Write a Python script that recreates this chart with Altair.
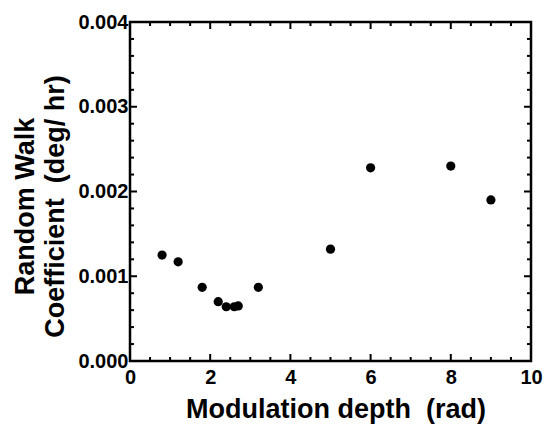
import altair as alt
import pandas as pd

# data
depth = [0.8, 1.2, 1.8, 2.2, 2.4, 2.6, 2.7, 3.2, 5.0, 6.0, 8.0, 9.0]
coef = [0.00125, 0.00117, 0.00087, 0.00070, 0.00064, 0.00064, 0.00065,
        0.00087, 0.00132, 0.00228, 0.00230, 0.00190]

x_major = [2, 4, 6, 8]
x_minor = [0.5, 1, 1.5, 2.5, 3, 3.5, 4.5, 5, 5.5, 6.5, 7, 7.5, 8.5, 9, 9.5]
y_major = [0.001, 0.002, 0.003]
y_minor = [0.0002, 0.0004, 0.0006, 0.0008, 0.0012, 0.0014, 0.0016, 0.0018,
           0.0022, 0.0024, 0.0026, 0.0028, 0.0032, 0.0034, 0.0036, 0.0038]

x_title = "Modulation depth\u00a0\u00a0(rad)"
y_title = ["Random Walk", "Coefficient\u00a0\u00a0(deg/ hr)"]

W, H = 401, 339
FONT = "Liberation Sans"

xs = alt.Scale(domain=[0, 10], nice=False, zero=False)
ys = alt.Scale(domain=[0, 0.004], nice=False, zero=False)

df = pd.DataFrame({"depth": depth, "coef": coef})

points = alt.Chart(df).mark_circle(size=85, color="black", opacity=1).encode(
    x=alt.X("depth:Q", scale=xs,
            axis=alt.Axis(values=[0, 2, 4, 6, 8, 10], format="d",
                          title=x_title, labelFlush=False,
                          ticks=False, domain=False, grid=False,
                          labelPadding=6, labelFontSize=20,
                          titleFontSize=27, titleX=W / 2 + 5, titleY=56,
                          titleBaseline="alphabetic")),
    y=alt.Y("coef:Q", scale=ys,
            axis=alt.Axis(values=[0, 0.001, 0.002, 0.003, 0.004], format=".3f",
                          title=y_title, labelFlush=False,
                          ticks=False, domain=False, grid=False,
                          labelPadding=2, labelFontSize=20,
                          titleFontSize=27, titleLineHeight=30,
                          titleAngle=-90, titleAlign="center",
                          titleBaseline="alphabetic",
                          titleX=-97, titleY=184)),
)


def xticks(vals, length, top):
    d = pd.DataFrame({"v": vals})
    if top:
        yy, yy2 = 0, length
    else:
        yy, yy2 = H, H - length
    return alt.Chart(d).mark_rule(color="black", strokeWidth=2).encode(
        x=alt.X("v:Q", scale=xs),
        y=alt.value(yy), y2=alt.value(yy2))


def yticks(vals, length, right):
    d = pd.DataFrame({"v": vals})
    if right:
        xx, xx2 = W, W - length
    else:
        xx, xx2 = 0, length
    return alt.Chart(d).mark_rule(color="black", strokeWidth=2).encode(
        y=alt.Y("v:Q", scale=ys),
        x=alt.value(xx), x2=alt.value(xx2))


layers = [
    points,
    xticks(x_major, 7, False), xticks(x_minor, 4, False),
    xticks(x_major, 7, True), xticks(x_minor, 4, True),
    yticks(y_major, 7, False), yticks(y_minor, 4, False),
    yticks(y_major, 7, True), yticks(y_minor, 4, True),
]

chart = alt.layer(*layers).properties(
    width=W, height=H,
    autosize=alt.AutoSizeParams(type="none"),
    padding={"left": 122, "top": 14, "right": 12, "bottom": 63},
    background="white",
).configure_view(
    stroke="black", strokeWidth=2.5
).configure_axis(
    labelFont=FONT, titleFont=FONT, labelFontWeight="bold",
    titleFontWeight="bold", labelColor="black", titleColor="black",
)

chart.save("out.html", embed_options={"renderer": "svg", "actions": False})
